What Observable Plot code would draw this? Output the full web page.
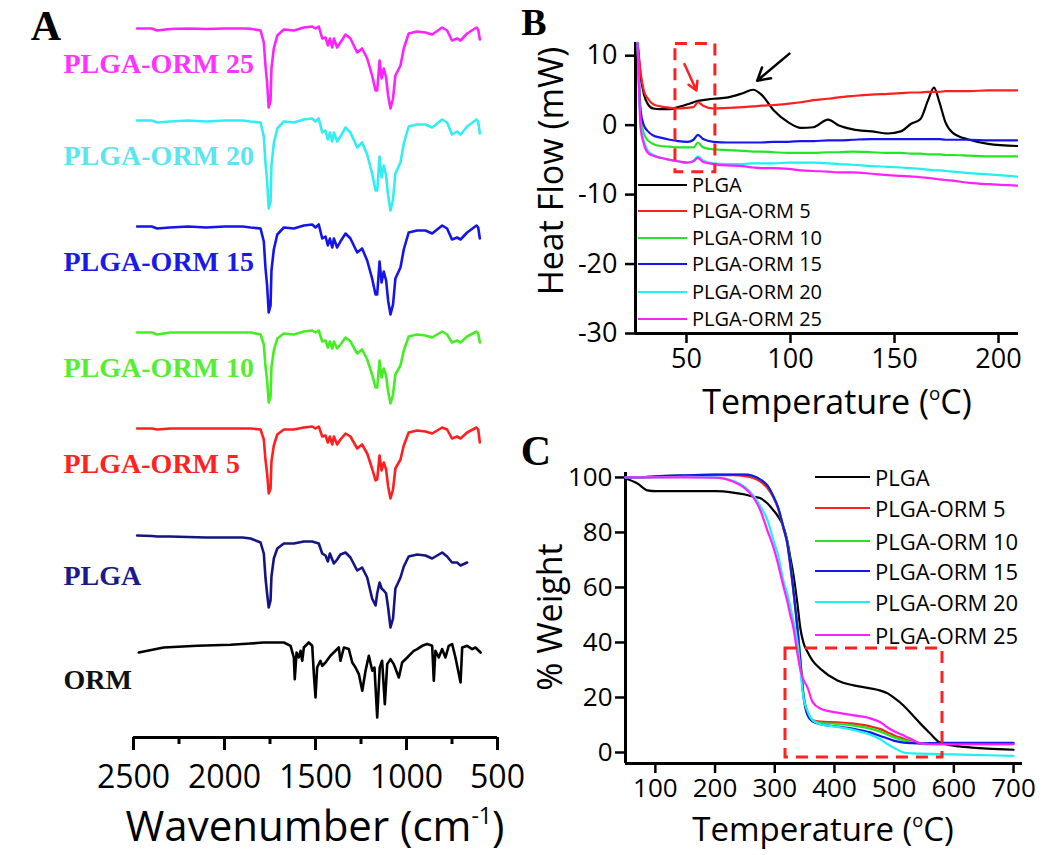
<!DOCTYPE html>
<html><head><meta charset="utf-8">
<script src="https://cdn.jsdelivr.net/npm/d3@7"></script>
<script src="https://cdn.jsdelivr.net/npm/@observablehq/plot@0.6"></script>
<style>
body{margin:0;background:#fff;}
#fig{position:relative;width:1050px;height:855px;overflow:hidden;font-family:'Open Sans',sans-serif;color:#000;background:#fff;}
.abs{position:absolute;white-space:nowrap;line-height:1;}
.letter{font-family:'Liberation Serif',serif;font-weight:bold;font-size:42px;line-height:0.72;}
sup{font-size:0.55em;vertical-align:0.75em;line-height:0;}
</style></head>
<body><div id="fig"></div>
<script>
// ---------- Panel A: FTIR ----------
const ftirNames = ["PLGA-ORM 25","PLGA-ORM 20","PLGA-ORM 15","PLGA-ORM 10","PLGA-ORM 5","PLGA"];
const ftirWave = [2480,2400,2370,2300,2200,2100,2000,1900,1857,1802,1784,1775,1766,1757,1747,1742,1729,1710,1674,1619,1564,1518,1500,1482,1463,1445,1432,1421,1408,1399,1381,1363,1335,1308,1271,1244,1216,1189,1170,1161,1148,1137,1125,1112,1101,1088,1074,1061,1033,1015,988,942,896,859,804,777,750,722,703,667,615,606,597];
const ftirT25 = [98,98,96,97.5,98,97.5,98,98,97.7,96,84,61,44,19,26,58,78,91,97,96,99,100,98,100,88,89,81,88,79,88,79,84,92,88,74,78,68,51,36,36,66,48,58,49,31,18,28,51,61,78,93,95,94,92,99,96,86,88,86,93,99,97,87];
const ftirT20 = [98,98,96,97,98,97,98,98,97,96,82,56,38,10,17,53,75,90,97,96,99,100,97,100,86,88,79,86,77,86,77,82,91,86,71,76,64,45,28,28,62,41,53,43,23,8,19,45,56,75,92,94,94,91,99,96,84,87,84,92,99,97,85];
const ftirT15 = [98,98,96,97,98,97,98,98,97,96,83,57,39,12,19,54,75,90,97,96,99,100,97,100,86,88,79,86,77,86,77,83,91,86,72,76,64,46,30,30,63,42,53,44,24,10,20,46,57,75,92,94,94,91,99,96,85,87,85,92,99,97,86];
const ftirT10 = [98,98,96,98,98,98,98,98,98,96,86,65,50,28,34,63,80,92,97,96,99,100,98,100,89,90,83,89,82,89,82,86,93,89,77,81,71,56,43,43,70,53,62,55,39,27,36,56,65,80,94,96,95,93,99,96,88,90,88,94,99,97,88];
const ftirT5 = [98,98,97,98,98,98,98,98,98,97,87,67,53,33,38,65,81,92,97,97,99,100,98,100,90,91,84,90,82,90,82,87,93,90,78,82,73,58,46,47,71,56,64,57,40,28,37,58,67,81,94,96,95,93,99,97,88,90,88,94,99,97,84];
const ftirTPLGA = [103,102.5,102,102,101.5,101,101,101,100,96,85,61,45,31,38,62,80,90,95,95,97,97,96,95,85,83,77,85,79,75,79,84,86,81,68,71,61,40,33,45,56,50,48,45,31,11,20,50,61,72,82,84,83,80,86,82,76,76,73,76];
const ormWave = [2471,2334,2150,1967,1857,1786,1674,1637,1619,1614,1604,1592,1582,1573,1564,1537,1518,1509,1500,1491,1473,1463,1445,1418,1390,1372,1363,1344,1317,1298,1280,1262,1243,1225,1207,1188,1176,1161,1147,1134,1119,1106,1088,1070,1042,1024,996,978,960,941,914,886,859,850,841,823,804,786,768,749,731,703,694,667,639,621,593];
const ormT = [90,95,96.7,97.7,99,100,100,96.7,85,63.4,90,85,91.7,81.7,95,100,96.7,68.4,45,75,81.7,76.7,80,86.7,91.7,95,81.7,95,93.4,80,75,68.4,51.7,71.7,86.7,71.7,75,25,75,81.7,38.4,78.4,83.4,78.4,65,80,85,88.4,91.7,93.4,96.7,98.4,96.7,61.7,91.7,85,93.4,85,96.7,98.4,85,60,95,96.7,93.4,95,90];
const ftirOffsets = [611,519,413,307,211,99,-5]; // vertical stacking of spectra (a.u.)
const ftirLineColors = ["#ff22ff","#33eef0","#1515e8","#44ee22","#ff1f1f","#141482","#000000"];
const ftirLabelColors = ["#ff33ff","#5ae6f0","#1a1ae6","#55ee33","#ff2222","#1a1a8c","#111111"];
const ftirTicks = [2500,2000,1500,1000,500];
const ftirMinorTicks = [2250,1750,1250,750];

// ---------- Panel B: DSC ----------
const seriesNames = ["PLGA","PLGA-ORM 5","PLGA-ORM 10","PLGA-ORM 15","PLGA-ORM 20","PLGA-ORM 25"];
const seriesColors = ["#000000","#ff1f1f","#22e622","#1515f0","#1ff0f0","#ff1fff"];
const dscTemp = [26.5,28,29.5,31.5,34,37.5,42,46,50.5,53.4,55.5,58,63,70,77,82,86,92,99,105,111,118,123,130,139,147,153,158,162.5,166,169,171.5,174.5,178,186,195,209];
const dscPLGA = [11.9,7.0,4.5,3.0,2.4,2.3,2.3,2.6,3.0,3.3,3.5,3.6,3.8,4.0,4.6,5.1,4.4,2.1,0.4,-0.4,-0.3,0.8,0.0,-0.6,-0.9,-1.2,-0.9,0.2,0.9,3.5,5.4,3.4,0.4,-1.1,-2.1,-2.7,-3.0];
const dsc5 = [11.9,7.5,5.0,3.8,3.0,2.7,2.5,2.4,2.5,2.6,3.3,2.8,2.4,2.5,2.6,2.7,2.8,2.9,3.1,3.3,3.6,3.8,4.0,4.2,4.4,4.5,4.6,4.7,4.7,4.8,4.8,4.8,4.9,4.9,4.9,5.0,5.0];
const dsc10 = [11.9,1.0,-1.2,-2.2,-2.7,-3.0,-3.1,-3.2,-3.2,-3.2,-2.5,-3.2,-3.5,-3.6,-3.7,-3.8,-3.8,-3.9,-4.0,-4.0,-4.0,-3.9,-3.9,-3.8,-3.9,-4.0,-4.0,-4.1,-4.1,-4.2,-4.2,-4.2,-4.3,-4.3,-4.4,-4.5,-4.5];
const dsc15 = [11.9,2.0,0.0,-0.9,-1.5,-1.8,-2.1,-2.3,-2.4,-2.1,-1.4,-2.0,-2.4,-2.5,-2.5,-2.5,-2.5,-2.4,-2.4,-2.3,-2.3,-2.2,-2.2,-2.1,-2.0,-2.0,-2.0,-2.0,-2.0,-2.0,-2.0,-2.0,-2.1,-2.1,-2.1,-2.2,-2.2];
const dsc20 = [11.9,0.0,-2.3,-3.7,-4.3,-4.7,-5.0,-5.2,-5.4,-5.1,-4.5,-5.1,-5.5,-5.6,-5.6,-5.5,-5.5,-5.5,-5.4,-5.4,-5.4,-5.5,-5.6,-5.7,-5.9,-6.0,-6.1,-6.2,-6.3,-6.4,-6.5,-6.5,-6.6,-6.7,-6.9,-7.1,-7.4];
const dsc25 = [11.9,-0.5,-2.7,-4.0,-4.4,-4.7,-5.0,-5.2,-5.4,-5.2,-4.7,-5.3,-5.6,-5.8,-5.9,-6.1,-6.2,-6.2,-6.3,-6.5,-6.6,-6.7,-6.8,-6.8,-7.0,-7.2,-7.3,-7.4,-7.5,-7.6,-7.7,-7.8,-7.9,-8.0,-8.3,-8.5,-8.7];
const dscXTicks = [50,100,150,200];
const dscYTicks = [-30,-20,-10,0,10];
const dscBox = [{x1: 44.7, x2: 63.9, y1: -6.8, y2: 11.7}];
const dscArrows = [
  {x1: 49, y1: 8.8, x2: 54.8, y2: 5.0, c: "#ff1f1f"},
  {x1: 99.5, y1: 10.3, x2: 84, y2: 6.4, c: "#000000"}
];

// ---------- Panel C: TGA ----------
const tgaTemp = [50,70,87,100,150,200,230,250,264,276,288,298,305,315,321,326,331,338,343,348,355,363,376,405,432,460,477,489,499,516,530,544,560,577,599,630,656,700];
const tgaPLGA = [99.6,97.8,95.3,95,95,95,94.5,93.8,93,92.4,90.5,88,86,81.8,77,71,65,54,45,40,36.5,33.5,30.5,26.2,24.4,23.3,22.5,21.5,20,17,13.8,10.5,7,3.6,2.5,1.8,1.4,1.0];
const tga5 = [100,100,100,100.2,100.5,100.8,100.8,100.5,99.8,98.5,96,92.5,89,81,76,68,59,45,33,21,14.5,11.8,11.2,11,10.5,9.5,8.5,7.3,6.3,5,4,3.3,3.2,3.2,3.2,3.2,3.2,3.2];
const tga10 = [100,100,100.2,100.4,100.8,101,101,101,100.5,99.2,97,93,89.5,81.5,76.5,69,60,46,34,21.5,14.5,11.8,10.8,10.4,9.8,8.7,7.6,6.5,5.6,4.5,3.8,3.4,3.1,3.0,3.0,3.0,3.0,3.0];
const tga15 = [100,100,100.2,100.4,100.8,101,101,101,100.5,99.2,97,93,89.5,81.5,76,68.5,59.5,45,33,20.5,13.5,11.3,10.3,9.4,8.6,7.3,6.0,5.1,4.3,3.6,3.4,3.3,3.4,3.5,3.5,3.5,3.5,3.5];
const tga20 = [100,100,100,100,100.2,100,98.8,96.5,93.5,89.5,84.4,77,72.3,62,57.8,53,48,40,30,20,15,11.8,10.3,9.3,8.2,6.5,4.8,3.0,1.8,0.0,-0.3,-0.4,-0.5,-0.6,-0.7,-0.9,-1.0,-1.2];
const tga25 = [100,100,100,100,100,99.9,98.5,96,92.8,88,80.5,74.5,69,60,55,50,45.5,36,30,26.5,23.6,18.5,16,14.5,13.5,12.4,11,9.1,7.8,6.2,4.7,3.3,3.0,3.0,3.0,3.0,3.0,3.0];
const tgaXTicks = [100,200,300,400,500,600,700];
const tgaYTicks = [0,20,40,60,80,100];
const tgaBox = [{x1: 318, x2: 581, y1: -1.8, y2: 37.8}];

// ---------- build ----------
const fig = document.getElementById("fig");
const fmt = d => String(d);
function addSvg(el, left, top) {
  el.style.position = "absolute"; el.style.left = left + "px"; el.style.top = top + "px";
  fig.appendChild(el);
}
function addText(html, cx, cy, css, rot, cls) {
  const d = document.createElement("div");
  d.className = "abs" + (cls ? " " + cls : "");
  d.innerHTML = html;
  d.style.cssText += `left:${cx}px;top:${cy}px;transform:translate(-50%,-50%)${rot ? " rotate(-90deg)" : ""};` + (css || "");
  fig.appendChild(d);
}
function addLegend(names, colors, x0, x1, xt, ys, fs) {
  names.forEach((n, i) => {
    const ln = document.createElement("div");
    ln.style.cssText = `position:absolute;left:${x0}px;top:${ys[i] - 1}px;width:${x1 - x0}px;height:2px;background:${colors[i]};`;
    fig.appendChild(ln);
    const t = document.createElement("div");
    t.className = "abs";
    t.textContent = n;
    t.style.cssText += `left:${xt}px;top:${ys[i]}px;transform:translateY(-50%);font-size:${fs}px;`;
    fig.appendChild(t);
  });
}

// Panel A
const ftirSets = [ftirT25, ftirT20, ftirT15, ftirT10, ftirT5, ftirTPLGA];
const ftirMarks = [];
ftirSets.forEach((T, i) => {
  const rows = T.map((t, j) => ({w: ftirWave[j], v: ftirOffsets[i] + t}));
  ftirMarks.push(Plot.line(rows, {x: "w", y: "v", stroke: ftirLineColors[i], strokeWidth: 2.6}));
});
const ormRows = ormT.map((t, j) => ({w: ormWave[j], v: ftirOffsets[6] + t}));
ftirMarks.push(Plot.line(ormRows, {x: "w", y: "v", stroke: ftirLineColors[6], strokeWidth: 2.6}));
const ftirLabels = ftirNames.concat(["ORM"]).map((n, i) => ({n, v: ftirOffsets[i] + 100 - 38, c: ftirLabelColors[i]}));
const plotA = Plot.plot({
  width: 520, height: 855,
  marginLeft: 133, marginRight: 23, marginTop: 0, marginBottom: 118,
  x: {domain: [2500, 500]},
  y: {domain: [0, 737], axis: null},
  style: {fontFamily: "'Open Sans'", fontSize: "32px", background: "transparent", color: "black", overflow: "visible"},
  marks: [
    Plot.ruleY([0], {strokeWidth: 3}),
    Plot.axisX({ticks: ftirTicks, tickSize: 13, tickPadding: 15, strokeWidth: 3, tickFormat: fmt, label: null}),
    Plot.axisX({ticks: ftirMinorTicks, tickSize: 7, strokeWidth: 3, tickFormat: () => "", label: null}),
    ...ftirMarks,
    Plot.text(ftirLabels, {frameAnchor: "left", y: "v", text: "n", fill: "c", dx: -70, textAnchor: "start",
      fontFamily: "'Liberation Serif'", fontWeight: "bold", fontSize: 28})
  ]
});
addSvg(plotA, 0, 0);

// Panel B
const dscSets = [dscPLGA, dsc5, dsc10, dsc15, dsc20, dsc25];
const plotB = Plot.plot({
  width: 530, height: 430,
  marginLeft: 115, marginRight: 32, marginTop: 42, marginBottom: 97,
  x: {domain: [25.5, 209.6]},
  y: {domain: [-30, 11.9]},
  style: {fontFamily: "'Open Sans'", fontSize: "27px", background: "transparent", color: "black", overflow: "visible"},
  marks: [
    Plot.ruleX([25.5], {strokeWidth: 3}),
    Plot.ruleY([-30], {strokeWidth: 3}),
    Plot.axisY({ticks: dscYTicks, tickSize: 10, tickPadding: 8, strokeWidth: 2.5, tickFormat: fmt, label: null}),
    Plot.axisX({ticks: dscXTicks, tickSize: 10, tickPadding: 5, strokeWidth: 2.5, tickFormat: fmt, label: null}),
    ...dscSets.map((vals, i) => Plot.line(vals.map((v, j) => ({t: dscTemp[j], v})),
      {x: "t", y: "v", stroke: seriesColors[i], strokeWidth: 2.2, curve: "monotone-x", clip: true})),
    Plot.rect(dscBox, {x1: "x1", x2: "x2", y1: "y1", y2: "y2", fill: "none", stroke: "#ff2020", strokeWidth: 3, strokeDasharray: "12,8"}),
    Plot.arrow(dscArrows, {x1: "x1", y1: "y1", x2: "x2", y2: "y2", stroke: "c", strokeWidth: 2.5, headLength: 10})
  ]
});
addSvg(plotB, 520, 0);

// Panel C
const tgaSets = [tgaPLGA, tga5, tga10, tga15, tga20, tga25];
const plotC = Plot.plot({
  width: 530, height: 425,
  marginLeft: 105, marginRight: 28, marginTop: 42, marginBottom: 92,
  x: {domain: [50, 715]},
  y: {domain: [-4, 101.8]},
  style: {fontFamily: "'Open Sans'", fontSize: "26px", background: "transparent", color: "black", overflow: "visible"},
  marks: [
    Plot.ruleX([50], {strokeWidth: 3}),
    Plot.ruleY([-4], {strokeWidth: 3}),
    Plot.axisY({ticks: tgaYTicks, tickSize: 10, tickPadding: 3, strokeWidth: 2.5, tickFormat: fmt, label: null}),
    Plot.axisX({ticks: tgaXTicks, tickSize: 10, tickPadding: 5, strokeWidth: 2.5, tickFormat: fmt, label: null}),
    ...tgaSets.map((vals, i) => Plot.line(vals.map((v, j) => ({t: tgaTemp[j], v})),
      {x: "t", y: "v", stroke: seriesColors[i], strokeWidth: 2.2, curve: "monotone-x"})),
    Plot.rect(tgaBox, {x1: "x1", x2: "x2", y1: "y1", y2: "y2", fill: "none", stroke: "#ff2020", strokeWidth: 3, strokeDasharray: "12,8"})
  ]
});
addSvg(plotC, 520, 430);

// Panel letters and axis titles
addText("A", 46, 26, "", false, "letter");
addText("B", 534, 23, "font-size:38px;", false, "letter");
addText("C", 536, 451, "", false, "letter");
addText("Wavenumber (cm<sup>-1</sup>)", 315, 825, "font-size:42px;");
addText("Temperature (<sup>o</sup>C)", 837, 401, "font-size:34px;");
addText("Temperature (<sup>o</sup>C)", 823, 828, "font-size:33px;");
addText("Heat Flow (mW)", 550, 171, "font-size:34px;", true);
addText("% Weight", 549, 617, "font-size:34px;", true);

// Legends
addLegend(seriesNames, seriesColors, 638, 687, 692, [185, 211, 238, 264, 292, 319], 20);
addLegend(seriesNames, seriesColors, 815, 870, 875, [477, 508, 541, 571, 602, 635], 22);
</script>
</body></html>
